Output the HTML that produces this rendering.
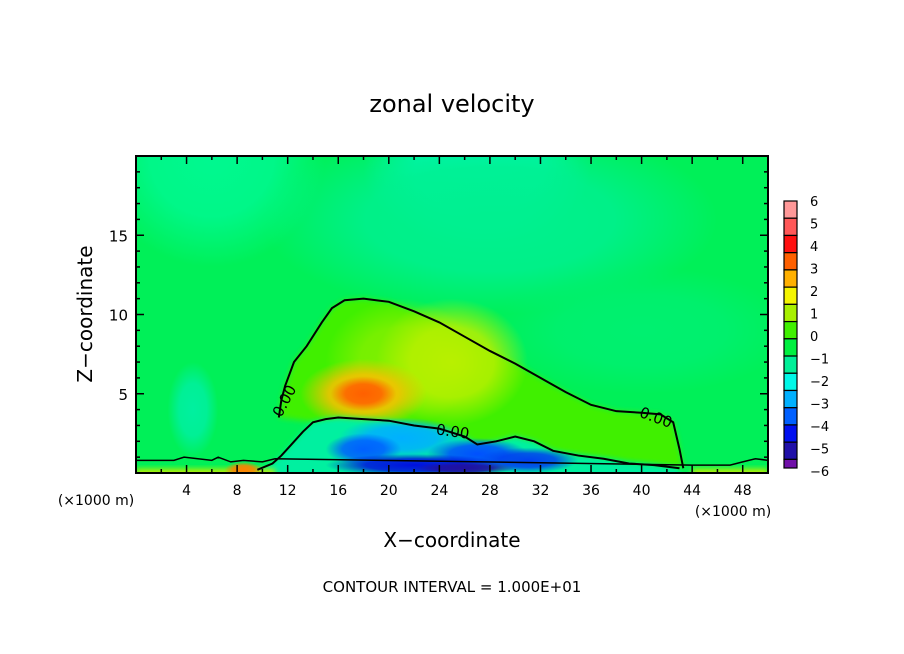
<!DOCTYPE html>
<html><head><meta charset="utf-8"><style>
html,body{margin:0;padding:0;background:#fff;}
svg{display:block;font-family:"DejaVu Sans","Liberation Sans",sans-serif;}
</style></head><body>
<svg id="c" width="904" height="654" viewBox="0 0 904 654" xmlns="http://www.w3.org/2000/svg">
<defs id="defs">
<filter id="b3" x="-20%" y="-20%" width="140%" height="140%"><feGaussianBlur stdDeviation="3"/></filter>
<clipPath id="pc"><rect x="136" y="156" width="632" height="317"/></clipPath>
</defs>
<text x="452" y="112" font-size="24" text-anchor="middle">zonal velocity</text>
<g id="field" clip-path="url(#pc)"></g>
<g id="axes"></g>
<text x="452" y="547" font-size="20" text-anchor="middle">X−coordinate</text>
<text transform="translate(92,314) rotate(-90)" font-size="20" text-anchor="middle">Z−coordinate</text>
<text x="96" y="505" font-size="14" text-anchor="middle">(×1000 m)</text>
<text x="733" y="516" font-size="14" text-anchor="middle">(×1000 m)</text>
<text x="452" y="592" font-size="15" text-anchor="middle">CONTOUR INTERVAL = 1.000E+01</text>
<g id="cbar"></g>
</svg>
<script>
const xTicks=[4,8,12,16,20,24,28,32,36,40,44,48];
const yTicks=[5,10,15];
const cbLabels=[6,5,4,3,2,1,0,-1,-2,-3,-4,-5,-6];
const cbColors=["#ff9898","#ff5858","#ff1010","#ff6000","#ffb000","#f4f400","#a8f000","#40f000","#00f040","#00f098","#00f8e8","#00b0ff","#0060ff","#0010f0","#2010a8","#7010a8"];
const zeroUpperX=[11.3,11.5,11.8,12.5,13.5,14.7,15.5,16.5,18,20,22,24,26,28,30,32,34,36,38,40,41.5,42.5,43,43.3];
const zeroUpperZ=[3.5,4.6,5.5,7.0,8.0,9.5,10.4,10.9,11.0,10.8,10.2,9.5,8.6,7.7,6.9,6.0,5.1,4.3,3.9,3.8,3.7,3.2,1.5,0.3];
const zeroLowerX=[9.6,10.8,11.5,12.3,13.2,14,15,16,18,20,22,24,26,27,28.5,30,31.5,33,35,37,39,41,43];
const zeroLowerZ=[0.2,0.6,1.1,1.8,2.6,3.2,3.4,3.5,3.4,3.3,3.0,2.8,2.3,1.8,2.0,2.3,2.0,1.4,1.1,0.9,0.6,0.5,0.3];
const groundX=[0,3,3.8,6,6.5,7.5,8.5,10,11,44,47,48,49,50];
const groundZ=[0.8,0.8,1.0,0.8,1.0,0.7,0.8,0.7,0.9,0.5,0.5,0.7,0.9,0.8];
// blobs: centre x, z, radius x, radius z, colour
const blobX=[6,27,28,40,21,25,18,18,4.5,21,18,27,31,22,26,8.5];
const blobZ=[20,19,16,9,7,7,5,5,4,2.2,1.5,1.2,0.8,0.5,0.3,0.2];
const blobRX=[9,9,18,12,6,6,5,2.6,2,5,3,4,4,7,4,1.5];
const blobRZ=[7,4.5,6,4,4,4,2.2,1.1,3,1.3,1,1,0.8,0.7,0.4,0.5];
const blobC=["#00f890","#00f8c0","#00f090","#00f070","#80f000","#b8f000","#f8c000","#ff6000","#00f0a0","#00b0ff","#0060ff","#0050ff","#0040f0","#0010e0","#2010a0","#ff8000"];

const NS="http://www.w3.org/2000/svg";
const X0=136,X1=768,Y0=473,Y1=156;
const sx=v=>X0+(v/50)*(X1-X0);
const sz=v=>Y0-(v/20)*(Y0-Y1);
function mk(t,a,p){const e=document.createElementNS(NS,t);for(const k in a)e.setAttribute(k,a[k]);p.appendChild(e);return e;}
const defs=document.getElementById('defs');
const field=document.getElementById('field');
let e=mk('rect',{x:X0,y:Y1,width:X1-X0,height:Y0-Y1,fill:'#00f058'},field);


let d='M'+zeroUpperX.map((x,i)=>sx(x)+','+sz(zeroUpperZ[i])).join(' L');
let dl='M'+zeroLowerX.map((x,i)=>sx(x)+','+sz(zeroLowerZ[i])).join(' L');
function blob(i){
  const id='g'+i;
  const rg=mk('radialGradient',{id:id},defs);
  mk('stop',{offset:'0','stop-color':blobC[i],'stop-opacity':1},rg);
  mk('stop',{offset:'0.55','stop-color':blobC[i],'stop-opacity':0.85},rg);
  mk('stop',{offset:'1','stop-color':blobC[i],'stop-opacity':0},rg);
  const b=mk('ellipse',{cx:sx(blobX[i]),cy:sz(blobZ[i]),rx:blobRX[i]*(X1-X0)/50,ry:blobRZ[i]*(Y0-Y1)/20,fill:'url(#'+id+')'},field);
  
  
}
[0,1,2,3,8].forEach(blob);
let g=mk('path',{d:d+' Z',fill:'#40f000',filter:'url(#b3)'},field);


[4,5,6,7].forEach(blob);
e=mk('path',{d:dl+' L'+sx(43)+','+sz(-1)+' L'+sx(9.6)+','+sz(-1)+' Z',fill:'#00f0a0',filter:'url(#b3)'},field);


[9,10,11,12,13,14].forEach(blob);
e=mk('path',{d:'M'+sx(0)+','+sz(0.25)+' L'+sx(11)+','+sz(0.25)+' L'+sx(11)+','+sz(-1)+' L'+sx(0)+','+sz(-1)+' Z M'+sx(44)+','+sz(0.25)+' L'+sx(50)+','+sz(0.25)+' L'+sx(50)+','+sz(-1)+' L'+sx(44)+','+sz(-1)+' Z',fill:'#c0f000',filter:'url(#b3)'},field);


blob(15);
e=mk('path',{d:d,fill:'none',stroke:'#000','stroke-width':2},field);


e=mk('path',{d:dl,fill:'none',stroke:'#000','stroke-width':2},field);


e=mk('path',{d:'M'+groundX.map((x,i)=>sx(x)+','+sz(groundZ[i])).join(' L'),fill:'none',stroke:'#000','stroke-width':1.5},field);


const lbl=[[12.1,4.4,-62],[25,2.3,8],[41,3.2,20]];
lbl.forEach(l=>{
  const t=mk('text',{x:sx(l[0]),y:sz(l[1]),'font-size':15,'text-anchor':'middle',transform:'rotate('+l[2]+' '+sx(l[0])+' '+sz(l[1])+')'},field);
  t.textContent='0.00';
  
  
});
const ax=document.getElementById('axes');
e=mk('rect',{x:X0,y:Y1,width:X1-X0,height:Y0-Y1,fill:'none',stroke:'#000','stroke-width':2},ax);


for(let v=2;v<50;v+=2){
  const L=v%4===0?8:4;
  mk('line',{x1:sx(v),x2:sx(v),y1:Y0,y2:Y0-L,stroke:'#000','stroke-width':1.5},ax);
  mk('line',{x1:sx(v),x2:sx(v),y1:Y1,y2:Y1+L,stroke:'#000','stroke-width':1.5},ax);
}
for(let v=1;v<20;v++){
  const L=v%5===0?8:4;
  mk('line',{x1:X0,x2:X0+L,y1:sz(v),y2:sz(v),stroke:'#000','stroke-width':1.5},ax);
  mk('line',{x1:X1,x2:X1-L,y1:sz(v),y2:sz(v),stroke:'#000','stroke-width':1.5},ax);
}
xTicks.forEach(v=>{const t=mk('text',{x:sx(v),y:495,'font-size':14,'text-anchor':'middle'},ax);t.textContent=v;

});
yTicks.forEach(v=>{const t=mk('text',{x:128,y:sz(v)+6,'font-size':15,'text-anchor':'end'},ax);t.textContent=v;

});
const cb=document.getElementById('cbar');
const CT=201,CB=471,n=cbColors.length,h=(CB-CT-3)/(n-0.5);
cbColors.forEach((c,i)=>{
  const hh=i===n-1?h/2:h;
  const r=mk('rect',{x:784,y:CT+i*h,width:13,height:hh,fill:c,stroke:'#000','stroke-width':1.2},cb);
  
  
});
cbLabels.forEach((v,i)=>{
  const y=CT+i*(CB-CT)/(cbLabels.length-1);
  const t=mk('text',{x:810,y:y+5,'font-size':13},cb);
  t.textContent=v<0?'−'+(-v):v;
  
  
});
</script>
</body></html>
